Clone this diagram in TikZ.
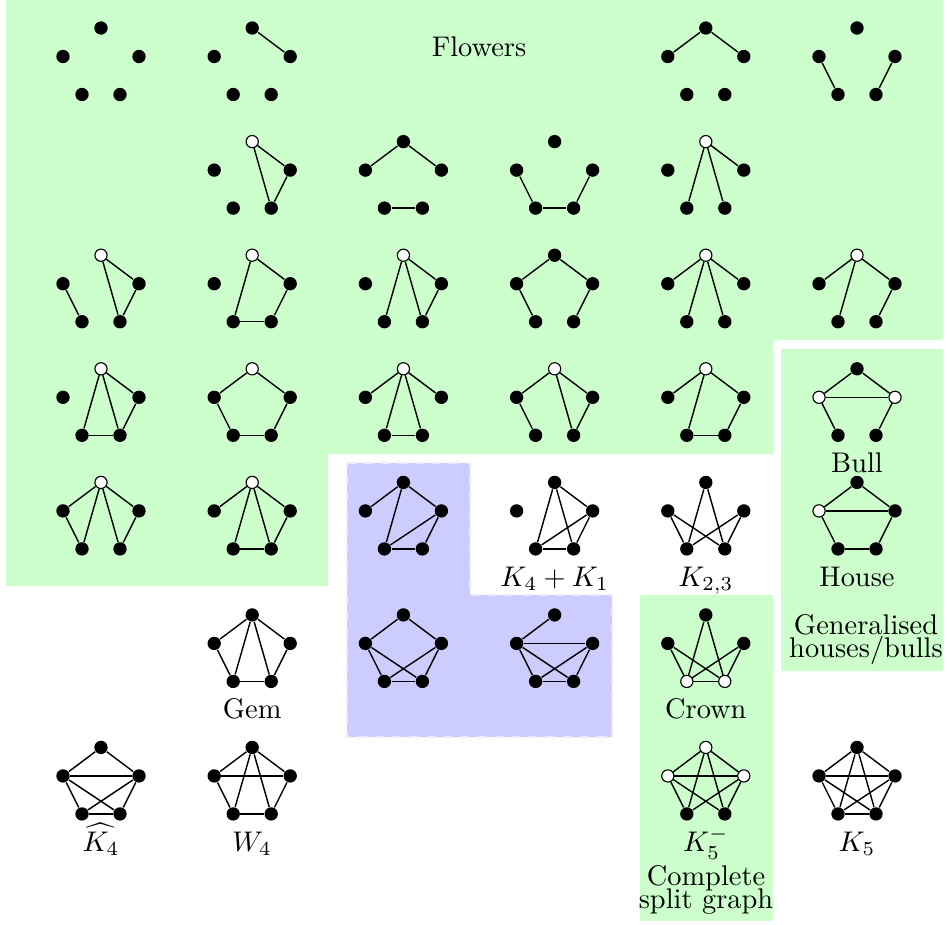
\documentclass[tikz,border=0pt]{standalone}
\usepackage{tikz}
\definecolor{flgreen}{RGB}{204,255,204}
\definecolor{flblue}{RGB}{204,204,255}
\tikzset{
  bv/.style={circle, fill=black, inner sep=0pt, minimum size=4.7pt},
  wv/.style={circle, draw=black, fill=white, inner sep=0pt, minimum size=4.3pt, line width=0.4pt},
  ed/.style={line width=0.5pt},
  lbl/.style={inner sep=0pt, anchor=base},
  greenbg/.style={fill=flgreen},
  bluebg/.style={fill=flblue, draw=white!60!flblue, dashed, line width=0.6pt}
}
\newcommand\pentg[8]{%
  \node[#4] (#1t) at (#2,#3) {};
  \node[#5] (#1l) at ({#2-38},{#3+28.5}) {};
  \node[#6] (#1r) at ({#2+38},{#3+28.5}) {};
  \node[#7] (#1a) at ({#2-19},{#3+66.5}) {};
  \node[#8] (#1b) at ({#2+19},{#3+66.5}) {};
}
\newcommand\gedges[2]{\foreach \p/\q in {#2}{\draw[ed] (#1\p) -- (#1\q);}}
\begin{document}
\begin{tikzpicture}[x=0.352pt,y=-0.352pt]
\useasboundingbox (0,0) rectangle (947,924);
% backgrounds
\fill[greenbg] (6,0) -- (943,0) -- (943,340) -- (773,340) -- (773,454) -- (328,454) -- (328,586) -- (6,586) -- cycle;
\fill[greenbg] (781,349) rectangle (943,671);
\fill[greenbg] (639.5,595) rectangle (773,921);
\filldraw[bluebg] (347,463) -- (470,463) -- (470,595) -- (612,595) -- (612,737) -- (347,737) -- cycle;
% row 1
\pentg{g11}{101}{28}{bv}{bv}{bv}{bv}{bv}
\pentg{g12}{252.2}{28}{bv}{bv}{bv}{bv}{bv}
\gedges{g12}{t/r}
\node[lbl] (flw) at (479,56) {Flowers};
\pentg{g15}{705.8}{28}{bv}{bv}{bv}{bv}{bv}
\gedges{g15}{t/l,t/r}
\pentg{g16}{857}{28}{bv}{bv}{bv}{bv}{bv}
\gedges{g16}{l/a,r/b}
% row 2
\pentg{g22}{252.2}{141.6}{wv}{bv}{bv}{bv}{bv}
\gedges{g22}{t/r,t/b,r/b}
\pentg{g23}{403.4}{141.6}{bv}{bv}{bv}{bv}{bv}
\gedges{g23}{t/l,t/r,a/b}
\pentg{g24}{554.6}{141.6}{bv}{bv}{bv}{bv}{bv}
\gedges{g24}{l/a,a/b,b/r}
\pentg{g25}{705.8}{141.6}{wv}{bv}{bv}{bv}{bv}
\gedges{g25}{t/r,t/a,t/b}
% row 3
\pentg{g31}{101}{255.2}{wv}{bv}{bv}{bv}{bv}
\gedges{g31}{t/r,t/b,r/b,l/a}
\pentg{g32}{252.2}{255.2}{wv}{bv}{bv}{bv}{bv}
\gedges{g32}{t/r,r/b,b/a,a/t}
\pentg{g33}{403.4}{255.2}{wv}{bv}{bv}{bv}{bv}
\gedges{g33}{t/a,t/b,t/r,r/b}
\pentg{g34}{554.6}{255.2}{bv}{bv}{bv}{bv}{bv}
\gedges{g34}{t/l,t/r,l/a,r/b}
\pentg{g35}{705.8}{255.2}{wv}{bv}{bv}{bv}{bv}
\gedges{g35}{t/l,t/r,t/a,t/b}
\pentg{g36}{857}{255.2}{wv}{bv}{bv}{bv}{bv}
\gedges{g36}{t/l,t/r,t/a,r/b}
% row 4
\pentg{g41}{101}{368.8}{wv}{bv}{bv}{bv}{bv}
\gedges{g41}{t/a,t/b,t/r,r/b,a/b}
\pentg{g42}{252.2}{368.8}{wv}{bv}{bv}{bv}{bv}
\gedges{g42}{t/l,l/a,a/b,b/r,r/t}
\pentg{g43}{403.4}{368.8}{wv}{bv}{bv}{bv}{bv}
\gedges{g43}{t/l,t/r,t/a,t/b,a/b}
\pentg{g44}{554.6}{368.8}{wv}{bv}{bv}{bv}{bv}
\gedges{g44}{t/l,t/r,t/b,l/a,r/b}
\pentg{g45}{705.8}{368.8}{wv}{bv}{bv}{bv}{bv}
\gedges{g45}{t/l,t/r,t/a,a/b,b/r}
\pentg{g46}{857}{368.8}{bv}{wv}{wv}{bv}{bv}
\gedges{g46}{t/l,t/r,l/r,l/a,r/b}
\node[lbl] (n46) at (857,472.8) {Bull};
% row 5
\pentg{g51}{101}{482.4}{wv}{bv}{bv}{bv}{bv}
\gedges{g51}{t/l,t/r,t/a,t/b,l/a,r/b}
\pentg{g52}{252.2}{482.4}{wv}{bv}{bv}{bv}{bv}
\gedges{g52}{t/l,t/r,t/a,t/b,a/b,r/b}
\pentg{g53}{403.4}{482.4}{bv}{bv}{bv}{bv}{bv}
\gedges{g53}{t/l,t/r,t/a,r/a,r/b,a/b}
\pentg{g54}{554.6}{482.4}{bv}{bv}{bv}{bv}{bv}
\gedges{g54}{t/r,t/a,t/b,r/a,r/b,a/b}
\node[lbl] (n54) at (554.6,586.4) {$K_4+K_1$};
\pentg{g55}{705.8}{482.4}{bv}{bv}{bv}{bv}{bv}
\gedges{g55}{t/a,t/b,l/a,l/b,r/a,r/b}
\node[lbl] (n55) at (705.8,586.4) {$K_{2,3}$};
\pentg{g56}{857}{482.4}{bv}{wv}{bv}{bv}{bv}
\gedges{g56}{t/l,t/r,l/r,l/a,r/b,a/b}
\node[lbl] (n56) at (857,586.4) {House};
\node[lbl] (gh1) at (866,634) {Generalised};
\node[lbl] (gh2) at (866,657) {houses/bulls};
% row 6
\pentg{g62}{252.2}{614.9}{bv}{bv}{bv}{bv}{bv}
\gedges{g62}{t/l,t/r,t/a,t/b,l/a,a/b,b/r}
\node[lbl] (n62) at (252.2,718.9) {Gem};
\pentg{g63}{403.4}{614.9}{bv}{bv}{bv}{bv}{bv}
\gedges{g63}{t/l,t/r,l/a,r/b,a/b,l/b,r/a}
\pentg{g64}{554.6}{614.9}{bv}{bv}{bv}{bv}{bv}
\gedges{g64}{t/l,l/r,l/a,l/b,r/a,r/b,a/b}
\pentg{g65}{705.8}{614.9}{bv}{bv}{bv}{wv}{wv}
\gedges{g65}{t/a,t/b,l/a,l/b,r/a,r/b,a/b}
\node[lbl] (n65) at (705.8,718.9) {Crown};
% row 7
\pentg{g71}{101}{747.4}{bv}{bv}{bv}{bv}{bv}
\gedges{g71}{t/l,t/r,l/r,l/a,l/b,r/a,r/b,a/b}
\node[lbl] (n71) at (101,851.4) {$\widehat{K_4}$};
\pentg{g72}{252.2}{747.4}{bv}{bv}{bv}{bv}{bv}
\gedges{g72}{t/l,t/r,l/r,t/a,t/b,l/a,r/b,a/b}
\node[lbl] (n72) at (252.2,851.4) {$W_4$};
\pentg{g75}{705.8}{747.4}{wv}{wv}{wv}{bv}{bv}
\gedges{g75}{t/l,t/r,l/r,t/a,t/b,l/a,l/b,r/a,r/b}
\node[lbl] (n75) at (705.8,851.4) {$K_5^-$};
\node[lbl] (cs1) at (706,885) {Complete};
\node[lbl] (cs2) at (706,908) {split graph};
\pentg{g76}{857}{747.4}{bv}{bv}{bv}{bv}{bv}
\gedges{g76}{t/l,t/r,t/a,t/b,l/r,l/a,l/b,r/a,r/b,a/b}
\node[lbl] (n76) at (857,851.4) {$K_5$};
\end{tikzpicture}
\end{document}
